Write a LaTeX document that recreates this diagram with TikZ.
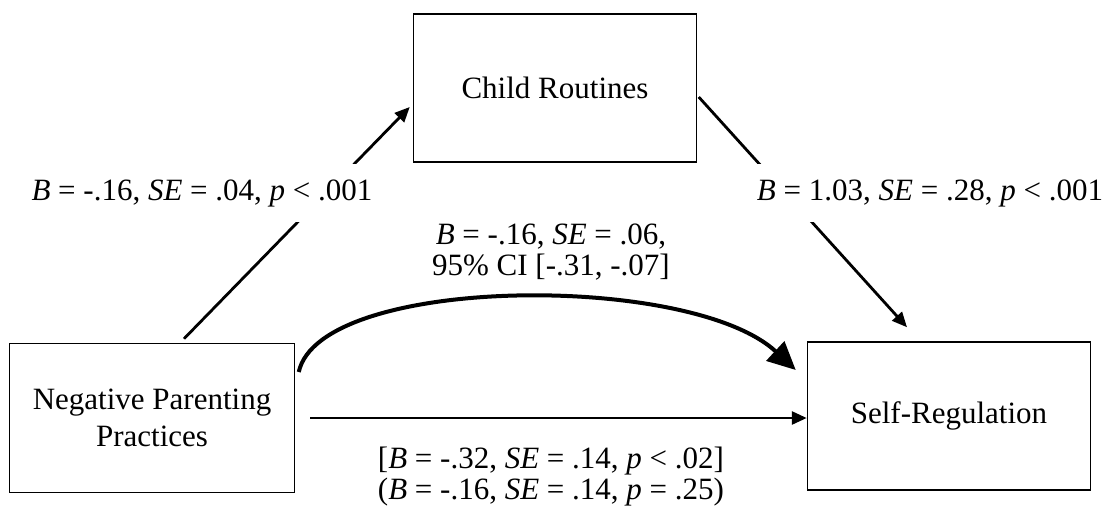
\documentclass[tikz,border=0pt]{standalone}
\usepackage{fontspec}
\setmainfont{Liberation Serif}
\usetikzlibrary{arrows.meta,calc}
\begin{document}
\begin{tikzpicture}[x=1pt,y=-1pt,
  box/.style={draw,line width=1.5pt,minimum width=283pt,minimum height=148pt,align=center,inner sep=0pt,font=\fontsize{31}{37}\selectfont},
  lbl/.style={font=\fontsize{31}{31}\selectfont,align=center,inner sep=0pt},
  brk/.style={lbl,fill=white,inner xsep=3pt,inner ysep=15pt},
  conn/.style={line width=2.8pt,-{Triangle[length=15pt,width=13pt]}},
  bigconn/.style={line width=4pt,line cap=butt,-{Triangle[length=28pt,width=26pt]}},
]
\useasboundingbox (0,0) rectangle (1108,507);
\node[box] (cr) at (555,88) {Child Routines};
\node[box,minimum width=285pt,minimum height=149pt] (npp) at (152,418) {Negative Parenting\\Practices};
\node[box] (sr) at (949,416) {Self-Regulation};

\draw[conn] ($(npp.north)+(32,-4)$) -- ($(cr.west)+(-3,19)$);
\draw[conn] ($(cr.east)+(1.5,9)$) -- ($(sr.north)+(-42,-14)$);
\coordinate (s0) at ($(npp.east)+(15,0)$);
\draw[conn] (s0) -- (s0 -| sr.west);
\draw[bigconn] ($(npp.east)+(3.5,-46)$) .. controls (320,275) and (690,272) .. ($(sr.west)+(-11,-46)$);

\node[brk] (l1) at (202,193) {\textit{B} = -.16, \textit{SE} = .04, \textit{p} < .001};
\node[brk] (l2) at (930,193) {\textit{B} = 1.03, \textit{SE} = .28, \textit{p} < .001};
\node[lbl] (l3) at (551,252) {\textit{B} = -.16, \textit{SE} = .06,\\95\% CI [-.31, -.07]};
\node[lbl] (l4) at (551,477) {[\textit{B} = -.32, \textit{SE} = .14, \textit{p} < .02]\\(\textit{B} = -.16, \textit{SE} = .14, \textit{p} = .25)};
\end{tikzpicture}
\end{document}
